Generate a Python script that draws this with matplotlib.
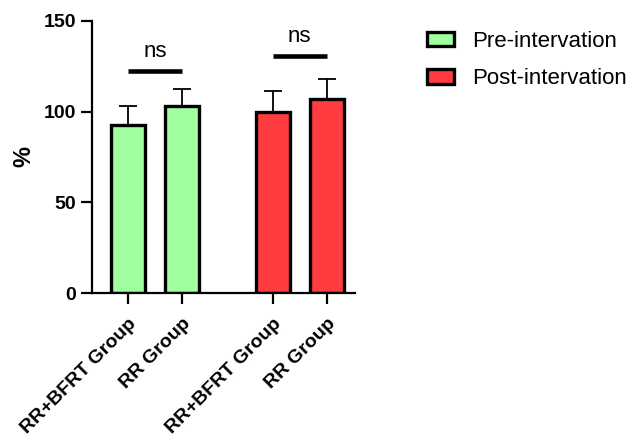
import matplotlib.pyplot as plt
from matplotlib.patches import Patch

plt.rcParams['font.family'] = ['Liberation Sans', 'DejaVu Sans']

# data
labels = ["RR+BFRT Group", "RR Group", "RR+BFRT Group", "RR Group"]
means = [92.5, 103.3, 100.0, 107.0]
sd_upper = [10.8, 9.0, 11.3, 11.0]
series = ["Pre-intervation", "Post-intervation"]
colors = ["#A0FF9E", "#FF3C3F"]
bar_colors = [colors[0], colors[0], colors[1], colors[1]]
positions = [0, 1, 2.68, 3.68]

# significance annotations: (x1, x2, line height, label)
sig = [(0, 1, 122.5, "ns"), (2.68, 3.68, 130.5, "ns")]

fig = plt.figure(figsize=(6.3, 4.37), dpi=100)
ax = fig.add_axes([0.146, 0.3295, 0.417, 0.6225])

ax.bar(positions, means, width=0.63, color=bar_colors, edgecolor="black",
       linewidth=2.4, zorder=2)
ax.errorbar(positions, means, yerr=[[0] * 4, sd_upper], fmt="none",
            ecolor="black", elinewidth=1.3, capsize=6.8, capthick=1.3, zorder=1)

for x1, x2, h, txt in sig:
    ax.plot([x1, x2], [h, h], color="black", linewidth=3.3, clip_on=False,
            solid_capstyle="butt")
    ax.text((x1 + x2) / 2, h + 7.7, txt, ha="center", va="baseline", fontsize=16)

ax.set_xlim(-0.667, 4.2)
ax.set_ylim(0, 150)
ax.set_yticks([0, 50, 100, 150])
ax.set_xticks(positions)
ax.set_xticklabels(labels, rotation=45, ha="right", rotation_mode="anchor",
                   fontsize=14, fontweight="bold")
for t in ax.get_yticklabels():
    t.set_fontsize(14)
    t.set_fontweight("bold")
ax.set_ylabel("%", fontsize=17, fontweight="bold", labelpad=6)

for s in ["top", "right"]:
    ax.spines[s].set_visible(False)
for s in ["left", "bottom"]:
    ax.spines[s].set_linewidth(1.6)
ax.tick_params(axis="both", width=1.6, length=8)
ax.tick_params(axis="x", pad=8)

handles = [Patch(facecolor=c, edgecolor="black", linewidth=2.4) for c in colors]
fig.legend(handles, series, loc="upper left", bbox_to_anchor=(0.677, 0.93),
           frameon=False, fontsize=16, handlelength=1.25, handleheight=0.62,
           labelspacing=0.75, handletextpad=0.8, borderpad=0, borderaxespad=0)

fig.savefig("out.png", dpi=100)
